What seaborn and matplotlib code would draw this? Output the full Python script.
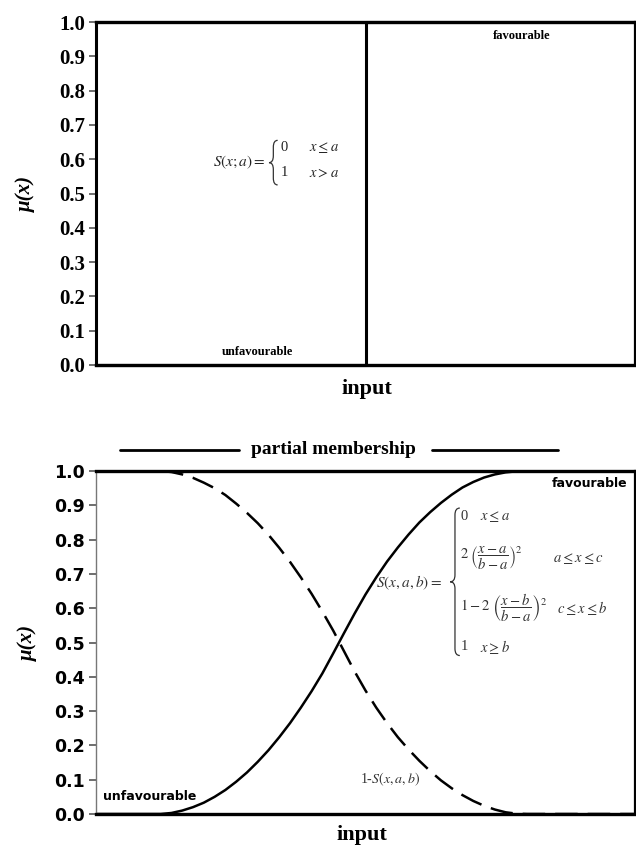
import seaborn as sns
import matplotlib.pyplot as plt
import numpy as np
import pandas as pd
from matplotlib.path import Path
from matplotlib.patches import PathPatch
from matplotlib.lines import Line2D

# crisp set: step at the middle of the input range
step_x = [0, 50, 50, 100]
step_mu = [0, 0, 1, 1]

# fuzzy set: values
fuzzy_x = [0, 10, 12, 14, 16, 18, 20, 22, 24, 26, 28, 30, 32, 34, 36, 38, 40, 42,
           44, 46, 48, 50, 52, 54, 56, 58, 60, 62, 64, 66, 68, 70, 72, 74, 76, 78,
           80, 100]
s_curve = [0, 0, 0.0, 0.003, 0.01, 0.02, 0.033, 0.05, 0.07, 0.094, 0.121, 0.152,
           0.186, 0.224, 0.265, 0.31, 0.358, 0.41, 0.468, 0.527, 0.585, 0.64, 0.69,
           0.736, 0.777, 0.815, 0.85, 0.88, 0.907, 0.931, 0.952, 0.968, 0.981,
           0.99, 0.996, 0.999, 1.0, 1.0]
not_s_curve = [1, 1, 1.0, 0.997, 0.99, 0.98, 0.966, 0.95, 0.93, 0.905, 0.878,
               0.848, 0.814, 0.776, 0.735, 0.69, 0.642, 0.59, 0.535, 0.475, 0.415,
               0.36, 0.31, 0.265, 0.224, 0.188, 0.155, 0.125, 0.098, 0.075, 0.055,
               0.038, 0.024, 0.013, 0.005, 0.001, 0.0, 0.0]

y_ticks = [0.0, 0.1, 0.2, 0.3, 0.4, 0.5, 0.6, 0.7, 0.8, 0.9, 1.0]

sns.set_theme(style="white")
plt.rcParams['font.family'] = ['Liberation Serif', 'DejaVu Serif']
plt.rcParams['mathtext.fontset'] = 'stix'
plt.rcParams['text.color'] = 'black'
plt.rcParams['axes.labelcolor'] = 'black'
plt.rcParams['ytick.color'] = 'black'

fig = plt.figure(figsize=(6.36, 8.48), dpi=100)
ax1 = fig.add_axes([96/636, 483/848, 539/636, 343/848])
ax2 = fig.add_axes([96/636, 34/848, 539/636, 343/848])

crisp = pd.DataFrame({"input": step_x, "mu": step_mu})
fuzzy = pd.DataFrame({"input": fuzzy_x, "S": s_curve, "notS": not_s_curve})

sns.lineplot(data=crisp, x="input", y="mu", ax=ax1, sort=False, estimator=None,
             errorbar=None, color="black", lw=2.2, clip_on=False)
sns.lineplot(data=fuzzy, x="input", y="S", ax=ax2, color="black", lw=1.8)
sns.lineplot(data=fuzzy, x="input", y="notS", ax=ax2, color="black", lw=1.8,
             linestyle=(0, (9, 4)))


def brace(ax, x, y0, y1, w, h):
    # thin curly bracket drawn in data coords
    ym = (y0 + y1) / 2
    verts = [(x + w, y1), (x, y1), (x, y1 - h),
             (x, ym + h), (x, ym), (x - w, ym),
             (x, ym), (x, ym - h),
             (x, y0 + h), (x, y0), (x + w, y0)]
    codes = [Path.MOVETO, Path.CURVE3, Path.CURVE3,
             Path.LINETO, Path.CURVE3, Path.CURVE3,
             Path.CURVE3, Path.CURVE3,
             Path.LINETO, Path.CURVE3, Path.CURVE3]
    ax.add_patch(PathPatch(Path(verts, codes), fc="none", ec="#333333", lw=0.9))


for ax in (ax1, ax2):
    ax.set_xlim(0, 100)
    ax.set_ylim(0, 1)
    ax.set_yticks(y_ticks)
    ax.set_yticklabels([f"{t:.1f}" for t in y_ticks])
    ax.set_xticks([])
    ax.tick_params(axis="y", left=True, length=5, width=1.2, pad=3, color="#555555",
                   labelcolor="black")
    for side in ("top", "bottom"):
        ax.spines[side].set_linewidth(2.4)
        ax.spines[side].set_color("black")
    ax.spines["right"].set_linewidth(1.6)
    ax.spines["right"].set_color("black")
    ax.set_xlabel("input", fontsize=16, fontweight="bold", va="center")
    ax.set_ylabel("μ(x)", fontsize=15, fontweight="bold", fontstyle="italic", va="center")

# top panel: crisp step
ax1.spines["left"].set_linewidth(2.2)
ax1.spines["left"].set_color("black")
for lab in ax1.get_yticklabels():
    lab.set_fontsize(15)
    lab.set_fontweight("bold")
ax1.xaxis.set_label_coords(0.502, -0.07)
ax1.yaxis.set_label_coords(-0.13, 0.5)

ax1.text(79, 0.96, "favourable", ha="center", va="center", fontsize=9, fontweight="bold")
ax1.text(30, 0.038, "unfavourable", ha="center", va="center", fontsize=9, fontweight="bold")
ax1.text(21.7, 0.59, r"$S(x;a) =$", ha="left", va="center", fontsize=11, color="#222222")
brace(ax1, 32.9, 0.525, 0.655, 0.8, 0.02)
ax1.text(34.3, 0.633, "0", ha="left", va="center", fontsize=10.5, color="#222222")
ax1.text(39.6, 0.633, r"$x \leq a$", ha="left", va="center", fontsize=10.5, color="#222222")
ax1.text(34.3, 0.56, "1", ha="left", va="center", fontsize=10.5, color="#222222")
ax1.text(39.6, 0.56, r"$x > a$", ha="left", va="center", fontsize=10.5, color="#222222")

# bottom panel: fuzzy S-function
ax2.spines["left"].set_linewidth(1.0)
ax2.spines["left"].set_color("#777777")
for lab in ax2.get_yticklabels():
    lab.set_fontsize(12.5)
    lab.set_fontweight("bold")
    lab.set_family("DejaVu Sans")
ax2.xaxis.set_label_coords(0.493, -0.061)
ax2.yaxis.set_label_coords(-0.126, 0.5)

ax2.text(98.5, 0.965, "favourable", ha="right", va="center", fontsize=9, fontweight="bold",
         family="DejaVu Sans")
ax2.text(1.3, 0.05, "unfavourable", ha="left", va="center", fontsize=9, fontweight="bold",
         family="DejaVu Sans")
ax2.text(52, 0.673, r"$S(x,a,b) =$", ha="left", va="center", fontsize=11, color="#333333")
brace(ax2, 66.6, 0.462, 0.892, 0.9, 0.02)
fs = 10.5
ax2.text(67.6, 0.866, "0", ha="left", va="center", fontsize=fs, color="#333333")
ax2.text(71.3, 0.866, r"$x \leq a$", ha="left", va="center", fontsize=fs, color="#333333")
ax2.text(67.6, 0.746, r"$2\ \left(\dfrac{x-a}{b-a}\right)^2$", ha="left", va="center",
         fontsize=fs, color="#333333")
ax2.text(84.8, 0.746, r"$a \leq x \leq c$", ha="left", va="center", fontsize=fs, color="#333333")
ax2.text(67.6, 0.6, r"$1-2\ \left(\dfrac{x-b}{b-a}\right)^2$", ha="left", va="center",
         fontsize=fs, color="#333333")
ax2.text(85.6, 0.6, r"$c \leq x \leq b$", ha="left", va="center", fontsize=fs, color="#333333")
ax2.text(67.6, 0.487, "1", ha="left", va="center", fontsize=fs, color="#333333")
ax2.text(71.3, 0.487, r"$x \geq b$", ha="left", va="center", fontsize=fs, color="#333333")
ax2.text(49, 0.1, r"1-$S(x,a,b)$", ha="left", va="center", fontsize=10, color="#333333")

# "partial membership" banner with rules either side
fig.text(333/636, 1 - 450/848, "partial membership", ha="center", va="center",
         fontsize=14, fontweight="bold")
fig.add_artist(Line2D([120/636, 239/636], [1 - 450/848] * 2, color="black", lw=2))
fig.add_artist(Line2D([432/636, 558/636], [1 - 450/848] * 2, color="black", lw=2))

plt.savefig("out.png", dpi=100)
